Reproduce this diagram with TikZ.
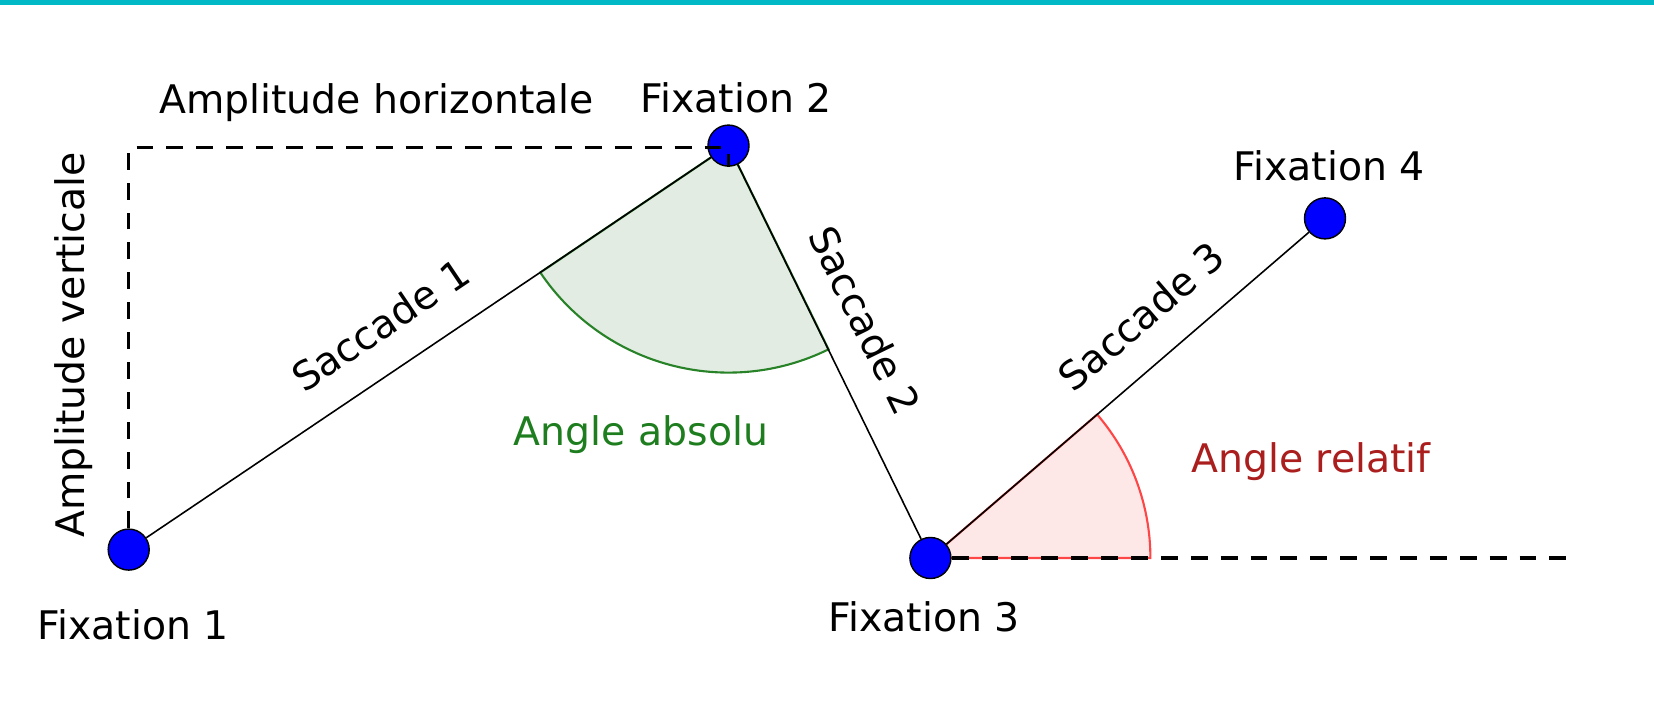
\documentclass[tikz,border=0pt]{standalone}
\usepackage{fontspec}
\setmainfont{DejaVu Sans}
\usetikzlibrary{backgrounds}
\definecolor{barcyan}{RGB}{0,184,198}
\definecolor{absfill}{RGB}{226,236,226}
\definecolor{absline}{RGB}{40,130,40}
\definecolor{abstext}{RGB}{30,125,30}
\definecolor{relfill}{RGB}{253,231,231}
\definecolor{relline}{RGB}{255,70,70}
\definecolor{reltext}{RGB}{170,30,30}
\tikzset{
  fixation/.style={circle,draw=black,fill=blue,minimum size=0.41cm,inner sep=0pt,line width=0.4pt},
  saccade/.style={draw=black,line width=0.45pt},
  amplitude/.style={draw=black,line width=0.9pt,dash pattern=on 4.8pt off 3.7pt},
  sacclabel/.style={sloped,above=5.5pt,inner sep=3pt}
}
\begin{document}
\begin{tikzpicture}[x=0.01cm,y=-0.01cm,font=\fontsize{11.2}{13}\selectfont]
\useasboundingbox (0,0) rectangle (1654,713);
\fill[barcyan] (0,0) rectangle (1654,5);
% fixations
\node[fixation] (F1) at (128.7,549.6) {};
\node[fixation] (F2) at (728.5,145.6) {};
\node[fixation] (F3) at (930.4,558) {};
\node[fixation] (F4) at (1325,218.4) {};
\coordinate (corner) at (126.6,147.7);
\coordinate (horizon) at (1574,558);
% angles
\begin{pgfonlayer}{background}
\filldraw[fill=absfill,draw=absline,line width=0.6pt] (F2.center) -- +(146:227) arc[start angle=146,end angle=63.85,radius=227] -- cycle;
\filldraw[fill=relfill,draw=relline,line width=0.6pt] (F3.center) -- +(0:220) arc[start angle=0,end angle=-40.7,radius=220] -- cycle;
\end{pgfonlayer}
% amplitudes
\draw[amplitude] (F1) -- (F1 |- corner) -- (corner -| F2.center) -- (F2);
\draw[amplitude] (F3) -- (horizon);
% saccades
\draw[saccade] (F1) -- (F2) node[pos=0.46,sacclabel] {Saccade 1};
\draw[saccade] (F2) -- (F3) node[pos=0.47,sacclabel] {Saccade 2};
\draw[saccade] (F3) -- (F4) node[pos=0.62,sacclabel] {Saccade 3};
% labels
\node (L1) at (133,624.5) {Fixation 1};
\node (L2) at (736,98) {Fixation 2};
\node (L3) at (924,617) {Fixation 3};
\node (L4) at (1329,165.6) {Fixation 4};
\node (LH) at (376.6,102.3) {Amplitude horizontale};
\node[rotate=90] (LV) at (73.8,345) {Amplitude verticale};
\node[text=abstext] (LA) at (641,434.6) {Angle absolu};
\node[text=reltext] (LR) at (1311,462) {Angle relatif};
\end{tikzpicture}
\end{document}
